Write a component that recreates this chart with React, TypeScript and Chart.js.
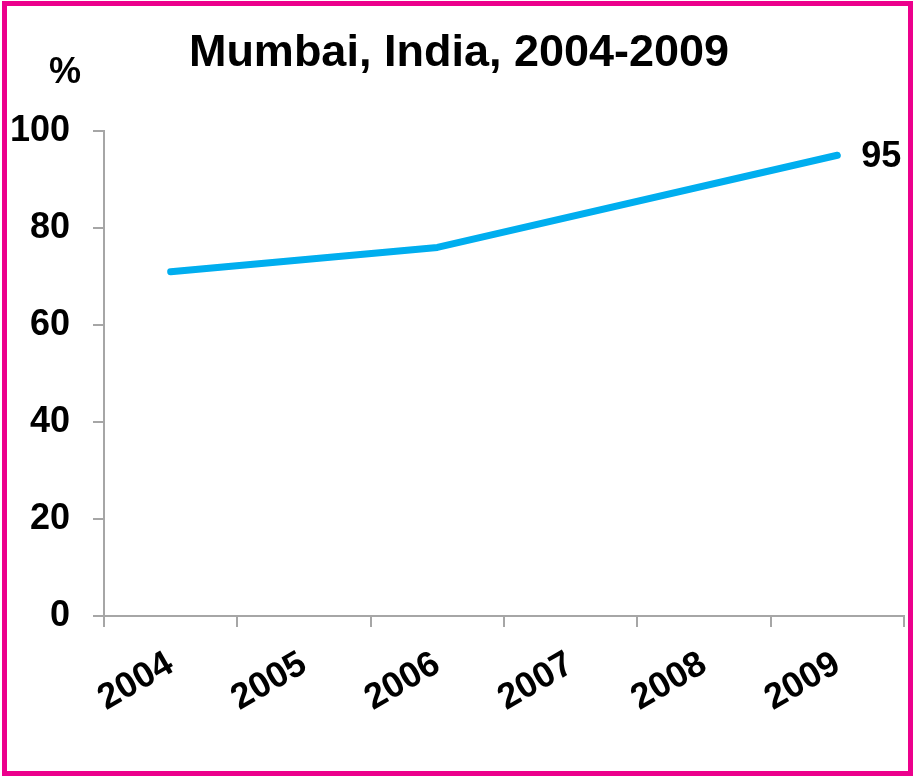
import React, { useEffect, useRef } from "react";
import { Chart, registerables } from "chart.js";

Chart.register(...registerables);

const years = ["2004", "2005", "2006", "2007", "2008", "2009"];
const coverage: (number | null)[] = [71, null, 76, null, null, 95];
const yTicks = [0, 20, 40, 60, 80, 100];
const titleText = "Mumbai, India, 2004-2009";
const unitLabel = "%";
const endLabel = "95";

const FONT = "'Liberation Sans', Arial, sans-serif";
const AXIS = "#a6a6a6";

const decor = {
  id: "decor",
  afterDraw(chart: any) {
    const ctx = chart.ctx;
    ctx.save();
    // pink frame
    ctx.strokeStyle = "#ec008c";
    ctx.lineWidth = 5;
    ctx.strokeRect(4.5, 3.5, 906, 770);
    // title
    ctx.fillStyle = "#000";
    ctx.font = `bold 45px ${FONT}`;
    ctx.textAlign = "center";
    ctx.textBaseline = "alphabetic";
    ctx.fillText(titleText, 459, 66);
    // unit
    ctx.font = `bold 36px ${FONT}`;
    ctx.fillText(unitLabel, 65, 83);
    // end label
    const meta = chart.getDatasetMeta(0);
    const last = coverage.length - 1;
    const pt = meta.data[last];
    ctx.font = `bold 36px ${FONT}`;
    ctx.textAlign = "left";
    ctx.textBaseline = "middle";
    ctx.fillText(endLabel, pt.x + 24, pt.y + 2);
    ctx.restore();
  },
};

export default function App() {
  const ref = useRef<HTMLCanvasElement>(null);
  useEffect(() => {
    if (!ref.current) return;
    const chart = new Chart(ref.current, {
      type: "line",
      data: {
        labels: years,
        datasets: [
          {
            data: coverage,
            borderColor: "#00aeef",
            borderWidth: 7,
            pointRadius: 0,
            borderCapStyle: "round",
            borderJoinStyle: "round",
            spanGaps: true,
            tension: 0,
          },
        ],
      },
      options: {
        animation: false,
        responsive: false,
        layout: { padding: { top: 131, right: 19, bottom: 0, left: 0 } },
        plugins: { legend: { display: false }, tooltip: { enabled: false }, title: { display: false } },
        scales: {
          x: {
            type: "category",
            offset: true,
            grid: { offset: true, drawOnChartArea: false, drawTicks: true, tickLength: 11, color: AXIS, lineWidth: 2 },
            border: { display: true, color: AXIS, width: 2 },
            ticks: {
              color: "#000",
              font: { family: FONT, size: 36, weight: "bold" },
              minRotation: 30,
              maxRotation: 30,
              padding: 16,
            },
            afterFit(scale: any) {
              scale.height = 163;
            },
          },
          y: {
            min: 0,
            max: 100,
            afterBuildTicks(scale: any) {
              scale.ticks = yTicks.map((v) => ({ value: v }));
            },
            grid: { drawOnChartArea: false, drawTicks: true, tickLength: 11, color: AXIS, lineWidth: 2 },
            border: { display: true, color: AXIS, width: 2 },
            ticks: {
              color: "#000",
              font: { family: FONT, size: 36, weight: "bold" },
              padding: 23,
            },
            afterFit(scale: any) {
              scale.width = 104;
            },
          },
        },
      },
      plugins: [decor],
    });
    return () => chart.destroy();
  }, []);
  return (
    <div style={{ position: "absolute", left: 0, top: 0, width: 923, height: 779, background: "#fff" }}>
      <canvas ref={ref} width={923} height={779} />
    </div>
  );
}
